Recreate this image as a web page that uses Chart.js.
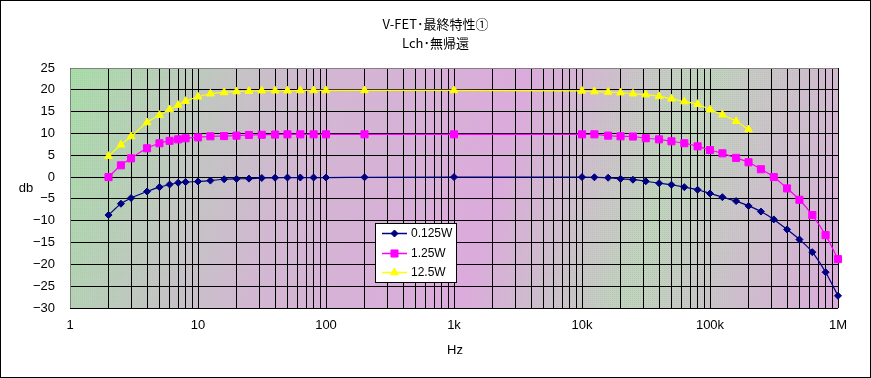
<!DOCTYPE html>
<html>
<head>
<meta charset="utf-8">
<script src="https://cdn.jsdelivr.net/npm/chart.js@4.4.1/dist/chart.umd.min.js"></script>
<style>
  html, body { margin: 0; padding: 0; background: #fff; }
  canvas { display: block; }
</style>
</head>
<body>
<canvas id="chart" width="871" height="378"></canvas>
<script>
// measurement frequencies (Hz)
const freqs = [2, 2.5, 3, 4, 5, 6, 7, 8, 10, 12.5, 16, 20, 25, 31.5, 40, 50, 63, 80, 100, 200,
  1000, 10000, 12500, 16000, 20000, 25000, 31500, 40000, 50000, 63000, 80000, 100000,
  125000, 160000, 200000, 250000, 315000, 400000, 500000, 630000, 800000, 1000000];

// gain (db) per output level
const gain0125 = [-8.7, -6.1, -4.8, -3.3, -2.3, -1.7, -1.3, -1.15, -1.0, -0.8, -0.5, -0.4, -0.35, -0.2, -0.15, -0.1, -0.1, -0.1, -0.1, -0.05,
  0, 0, -0.05, -0.15, -0.4, -0.6, -0.95, -1.4, -1.75, -2.3, -2.9, -3.75,
  -4.6, -5.5, -6.6, -7.9, -9.7, -12.0, -14.3, -17.2, -21.8, -27.2];
const gain125 = [0, 2.7, 4.3, 6.6, 7.75, 8.3, 8.65, 8.9, 9.1, 9.35, 9.4, 9.5, 9.65, 9.7, 9.75, 9.8, 9.8, 9.8, 9.8, 9.8,
  9.8, 9.8, 9.8, 9.5, 9.35, 9.3, 8.9, 8.65, 8.2, 7.75, 7.05, 6.2,
  5.45, 4.4, 3.4, 1.8, 0, -2.6, -5.2, -8.7, -13.3, -18.8];
const gain125w = [4.8, 7.4, 9.3, 12.5, 14.2, 15.5, 16.5, 17.4, 18.4, 19.1, 19.4, 19.6, 19.7, 19.8, 19.8, 19.8, 19.85, 19.85, 19.85, 19.85,
  19.85, 19.75, 19.6, 19.5, 19.35, 19.1, 18.9, 18.5, 17.95, 17.3, 16.7, 15.45,
  14.3, 12.8, 10.9];

const seriesNames = ["0.125W", "1.25W", "12.5W"];
const decadeLabels = { 1: "1", 10: "10", 100: "100", 1000: "1k", 10000: "10k", 100000: "100k", 1000000: "1M" };

const titleLines = ["V-FET･最終特性①", "Lch･無帰還"];
const xTitle = "Hz";
const yTitle = "db";

const FONT = '"Liberation Sans", Arial, sans-serif';
const JP_FONT = '"Noto Sans CJK JP", "Noto Sans", sans-serif';

// x grid values: 1..9 per decade
const xGrid = [];
for (let e = 0; e < 6; e++) {
  for (let s = 1; s <= 9; s++) xGrid.push(s * Math.pow(10, e));
}
xGrid.push(1000000);

function toPoints(values) {
  return values.map((v, i) => ({ x: freqs[i], y: v }));
}

// ===== dithered plot background =====
function makeDither(ctx) {
  const c = document.createElement("canvas");
  c.width = 2; c.height = 2;
  const g = c.getContext("2d");
  g.fillStyle = "#c0c0c0";
  g.fillRect(0, 0, 1, 1);
  return ctx.createPattern(c, "repeat");
}

const chartDecor = {
  id: "chartDecor",
  beforeDraw(chart) {
    const { ctx, chartArea: a } = chart;
    ctx.save();
    const grad = ctx.createLinearGradient(a.left, a.top, a.right, a.bottom);
    grad.addColorStop(0, "#a0e4a0");
    grad.addColorStop(0.3, "#d8b4d8");
    grad.addColorStop(0.55, "#e4a4e4");
    grad.addColorStop(0.75, "#bcd8b8");
    grad.addColorStop(1, "#e4a4e4");
    ctx.fillStyle = grad;
    ctx.fillRect(a.left, a.top, a.right - a.left, a.bottom - a.top);
    ctx.fillStyle = makeDither(ctx);
    ctx.fillRect(a.left, a.top, a.right - a.left, a.bottom - a.top);
    ctx.restore();
  },
  beforeDatasetsDraw(chart) {
    const { ctx, chartArea: a } = chart;
    ctx.save();
    ctx.strokeStyle = "#808080";
    ctx.lineWidth = 1;
    ctx.beginPath();
    ctx.moveTo(a.left + 0.5, a.bottom);
    ctx.lineTo(a.left + 0.5, a.top + 0.5);
    ctx.lineTo(a.right, a.top + 0.5);
    ctx.stroke();
    ctx.restore();
  },
  afterDraw(chart) {
    const { ctx } = chart;
    ctx.save();
    // outer frame
    ctx.strokeStyle = "#000";
    ctx.lineWidth = 1;
    ctx.strokeRect(0.5, 0.5, chart.width - 1, chart.height - 1);

    // titles
    ctx.fillStyle = "#000";
    ctx.textAlign = "center";
    ctx.textBaseline = "middle";
    ctx.font = "13px " + JP_FONT;
    ctx.fillText(titleLines[0], 435.5, 24);
    ctx.fillText(titleLines[1], 435.5, 43);

    ctx.font = "13px " + FONT;
    ctx.fillText(yTitle, 26, 188);
    ctx.fillText(xTitle, 455, 350);

    // legend
    const lx = 375, ly = 223, lw = 81, lh = 59;
    ctx.fillStyle = "#fff";
    ctx.fillRect(lx, ly, lw, lh);
    ctx.strokeStyle = "#000";
    ctx.strokeRect(lx + 0.5, ly + 0.5, lw, lh);
    const rows = [233, 253, 272];
    chart.data.datasets.forEach((ds, i) => {
      const y = rows[i];
      ctx.strokeStyle = ds.borderColor;
      ctx.lineWidth = 1.5;
      ctx.beginPath();
      ctx.moveTo(382, y + 0.5);
      ctx.lineTo(407, y + 0.5);
      ctx.stroke();
      ctx.fillStyle = ds.backgroundColor;
      ctx.lineWidth = 1;
      Chart.helpers.drawPoint(ctx, {
        pointStyle: ds.pointStyle,
        radius: ds.pointRadius,
        rotation: 0,
        borderWidth: 1
      }, 394.5, y + 0.5);
      ctx.fillStyle = "#000";
      ctx.textAlign = "left";
      ctx.textBaseline = "middle";
      ctx.font = "12px " + FONT;
      ctx.fillText(ds.label, 411, y + 1);
    });
    ctx.restore();
  }
};

new Chart(document.getElementById("chart"), {
  type: "line",
  data: {
    datasets: [
      {
        label: seriesNames[0],
        data: toPoints(gain0125),
        borderColor: "#000080",
        backgroundColor: "#000080",
        pointStyle: "rectRot",
        pointRadius: 3.5,
        borderWidth: 1.2
      },
      {
        label: seriesNames[1],
        data: toPoints(gain125),
        borderColor: "#ff00ff",
        backgroundColor: "#ff00ff",
        pointStyle: "rect",
        pointRadius: 5,
        borderWidth: 1.2
      },
      {
        label: seriesNames[2],
        data: toPoints(gain125w),
        borderColor: "#ffff00",
        backgroundColor: "#ffff00",
        pointStyle: "triangle",
        pointRadius: 4.5,
        borderWidth: 1.2
      }
    ].map(ds => Object.assign(ds, {
      pointBorderWidth: 1,
      pointHoverRadius: ds.pointRadius,
      cubicInterpolationMode: "monotone",
      clip: false
    }))
  },
  options: {
    responsive: false,
    animation: false,
    layout: { padding: { top: 68, right: 33, left: 0, bottom: 0 } },
    plugins: {
      legend: { display: false },
      title: { display: false },
      tooltip: { enabled: false }
    },
    scales: {
      x: {
        type: "logarithmic",
        min: 1,
        max: 1000000,
        afterBuildTicks: scale => {
          scale.ticks = xGrid.map(v => ({ value: v }));
        },
        afterFit: scale => {
          scale.height = 70;
          scale.paddingLeft = 0;
          scale.paddingRight = 0;
        },
        grid: { color: "#000", lineWidth: 1, drawTicks: false },
        border: { display: false },
        ticks: {
          autoSkip: false,
          maxRotation: 0,
          padding: 10,
          color: "#000",
          font: { family: FONT, size: 13 },
          callback: value => decadeLabels[value] || ""
        }
      },
      y: {
        min: -30,
        max: 25,
        afterFit: scale => {
          scale.width = 70;
          scale.paddingTop = 0;
          scale.paddingBottom = 0;
        },
        grid: { color: "#000", lineWidth: 1, drawTicks: false },
        border: { display: false },
        ticks: {
          stepSize: 5,
          padding: 15,
          color: "#000",
          font: { family: FONT, size: 13 },
          callback: value => String(value).replace("-", "−")
        }
      }
    }
  },
  plugins: [chartDecor]
});
</script>
</body>
</html>
